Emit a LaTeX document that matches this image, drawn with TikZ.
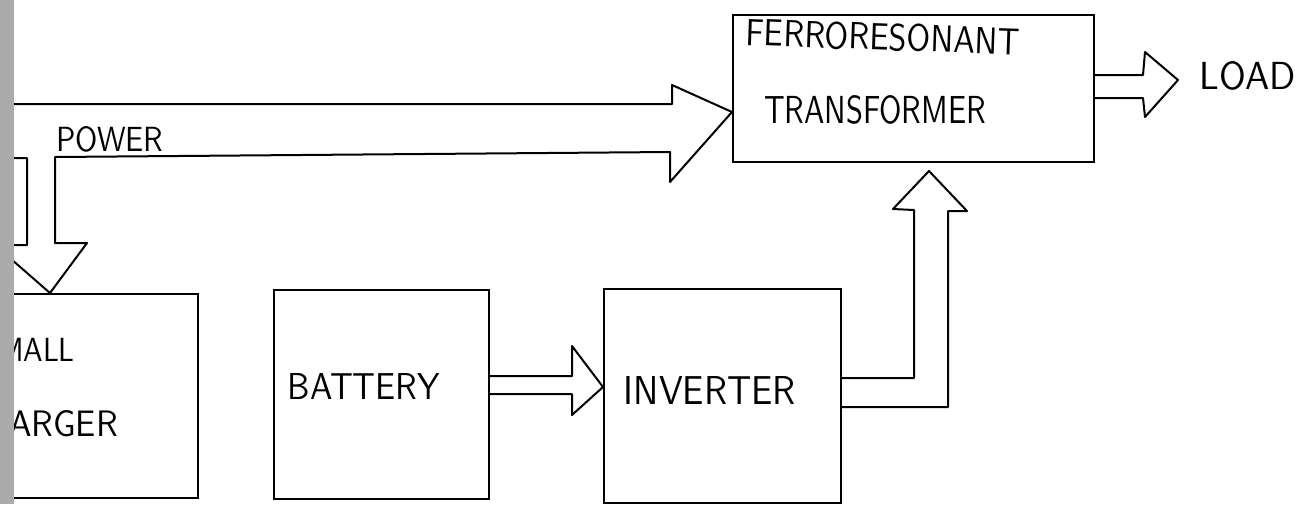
\documentclass[tikz,border=0pt]{standalone}
\usepackage{fontspec}
\usepackage{graphicx}
\definecolor{strip}{HTML}{ABABAB}
\tikzset{
  blk/.style={draw=black, line width=2pt, line join=round, line cap=round},
  boxn/.style={draw=black, line width=2pt, inner sep=0pt, anchor=north west},
  lbl/.style={inner sep=0pt, font=\sffamily},
}
\newcommand{\hwtext}[3]{\resizebox{#1pt}{#2pt}{#3}}
\begin{document}
\begin{tikzpicture}[x=1pt,y=-1pt]
\useasboundingbox (0,0) rectangle (1307,504);
\clip (0,0) rectangle (1307,504);
\fill[white] (0,0) rectangle (1307,504);

% blocks
\node[boxn, minimum width=361pt, minimum height=147pt] (xfmr) at (732,14) {};
\node[boxn, minimum width=300pt, minimum height=204pt] (chg) at (-103,293) {};
\node[boxn, minimum width=215pt, minimum height=209pt] (batt) at (273,289) {};
\node[boxn, minimum width=237pt, minimum height=214pt] (inv) at (603,288) {};

% labels
\node[lbl, rotate=-2] (tferro) at (883,37) {\hwtext{274}{27}{FERRORESONANT}};
\node[lbl] (ttrans) at (875,110) {\hwtext{222}{28}{TRANSFORMER}};
\node[lbl] (tload) at (1248,76) {\hwtext{96}{28}{LOAD}};
\node[lbl] (tpower) at (110,139) {\hwtext{107}{25}{POWER}};
\node[lbl] (tbatt) at (364,386) {\hwtext{152}{26}{BATTERY}};
\node[lbl] (tinv) at (710,390) {\hwtext{172}{28}{INVERTER}};
\node[lbl, anchor=east] (tsmall) at (75,350) {\hwtext{93}{24}{SMALL}};
\node[lbl, anchor=east] (tcharger) at (118,424) {\hwtext{154}{26}{CHARGER}};

% power arrow into transformer, with branch down to charger
\draw[blk] (-5,104) -- (672,104) -- (672,85) -- (xfmr.west |- 0,112)
  -- (670,182) -- (670,152) -- (55,157) -- (55,243) -- (87,243)
  -- (chg.north -| 50,0) -- (-5,245) -- (27,245) -- (27,158) -- (-5,158);

% battery -> inverter
\draw[blk] (batt.east |- 0,376) -- (572,376) -- (572,346) -- (inv.west |- 0,387)
  -- (572,415) -- (572,394) -- (batt.east |- 0,394);

% inverter -> transformer
\draw[blk] (inv.east |- 0,378) -- (914,378) -- (914,210) -- (893,209)
  -- (929,171) -- (967,211) -- (948,211) -- (948,407) -- (inv.east |- 0,407);

% transformer -> load
\draw[blk] (xfmr.east |- 0,75) -- (1143,75) -- (1145,52) -- (1178,80)
  -- (1145,117) -- (1143,98) -- (xfmr.east |- 0,98);

% scanned page edge
\fill[strip] (0,0) rectangle (14,504);
\end{tikzpicture}
\end{document}
